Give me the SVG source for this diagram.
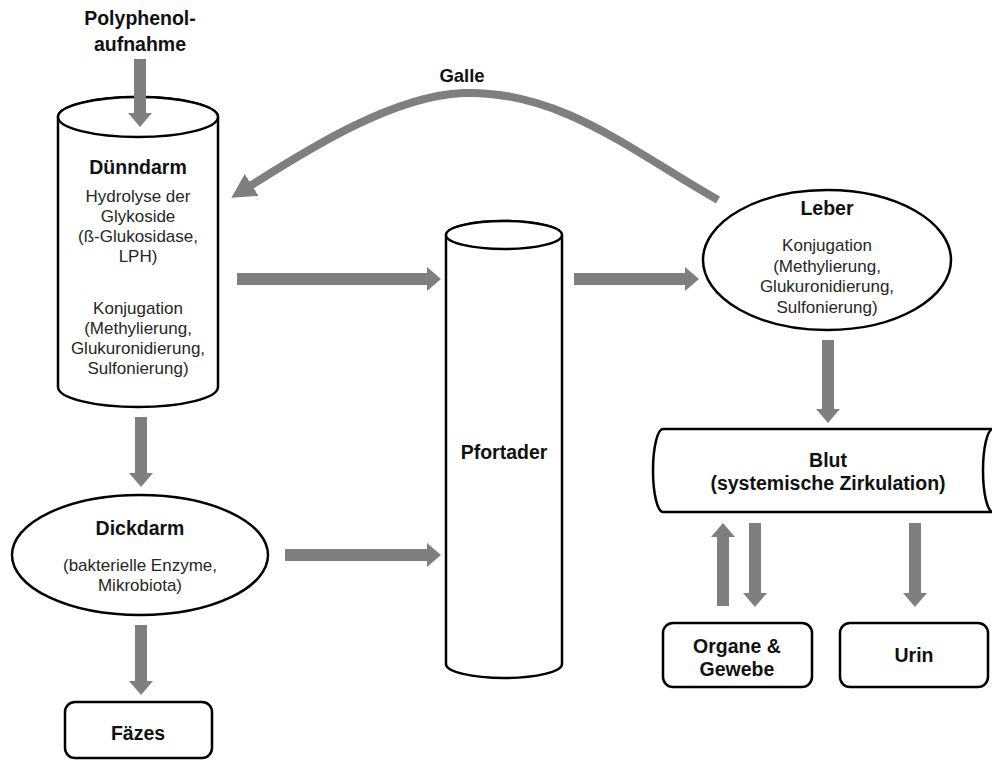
<svg xmlns="http://www.w3.org/2000/svg" width="992" height="762" viewBox="0 0 992 762">
<style>
.shape{fill:#fff;stroke:#000;stroke-width:2.5}
.t{font-family:"Liberation Sans",Arial,sans-serif;font-size:19.5px;font-weight:bold;fill:#111;text-anchor:middle}
.b{font-family:"Liberation Sans",Arial,sans-serif;font-size:17px;fill:#262626;text-anchor:middle}
.arr{stroke:#7f7f7f;stroke-width:12;fill:none}
.galle{stroke:#7f7f7f;stroke-width:8;fill:none}
</style>
<defs>
<marker id="head" markerUnits="userSpaceOnUse" markerWidth="14" markerHeight="24" viewBox="0 0 14 24" refX="1" refY="12" orient="auto">
<path d="M0,0 L14,12 L0,24 Z" fill="#7f7f7f"/>
</marker>
<marker id="headG" markerUnits="userSpaceOnUse" markerWidth="24" markerHeight="26" viewBox="0 0 24 26" refX="2" refY="13" orient="auto">
<path d="M0,0 L24,13 L0,26 Z" fill="#7f7f7f"/>
</marker>
</defs>

<g id="polyphenol">
<text class="t" x="140" y="25">Polyphenol-</text>
<text class="t" x="140" y="51">aufnahme</text>
</g>

<g id="duenndarm">
<path class="shape" d="M58,117 L58,387 A80,20 0 0 0 218,387 L218,117 A80,20 0 0 0 58,117 Z"/>
<ellipse class="shape" cx="138" cy="117" rx="80" ry="20"/>
<text class="t" x="138" y="174">Dünndarm</text>
<text class="b" x="138" y="202">Hydrolyse der</text>
<text class="b" x="138" y="222">Glykoside</text>
<text class="b" x="138" y="242">(ß-Glukosidase,</text>
<text class="b" x="138" y="262">LPH)</text>
<text class="b" x="138" y="314">Konjugation</text>
<text class="b" x="138" y="334">(Methylierung,</text>
<text class="b" x="138" y="354">Glukuronidierung,</text>
<text class="b" x="138" y="374">Sulfonierung)</text>
</g>

<g id="dickdarm">
<ellipse class="shape" cx="140" cy="555" rx="128" ry="60"/>
<text class="t" x="140" y="535">Dickdarm</text>
<text class="b" x="140" y="571">(bakterielle Enzyme,</text>
<text class="b" x="140" y="591">Mikrobiota)</text>
</g>

<g id="faezes">
<rect class="shape" x="65" y="702" width="147" height="56" rx="10"/>
<text class="t" x="138" y="740">Fäzes</text>
</g>

<g id="pfortader">
<path class="shape" d="M446,235 L446,664 A58,14 0 0 0 562,664 L562,235 A58,14 0 0 0 446,235 Z"/>
<ellipse class="shape" cx="504" cy="235" rx="58" ry="14"/>
<text class="t" x="504" y="459">Pfortader</text>
</g>

<g id="leber">
<ellipse class="shape" cx="827" cy="260" rx="124" ry="70"/>
<text class="t" x="827" y="215">Leber</text>
<text class="b" x="827" y="251">Konjugation</text>
<text class="b" x="827" y="272">(Methylierung,</text>
<text class="b" x="827" y="292">Glukuronidierung,</text>
<text class="b" x="827" y="313">Sulfonierung)</text>
</g>

<g id="blut">
<path class="shape" d="M663,429 L993,429 A10,41.5 0 0 1 993,512 L663,512 A10,41.5 0 0 1 663,429 Z"/>
<path class="shape" d="M993,429 A10,41.5 0 0 0 993,512" fill="none"/>
<text class="t" x="828" y="467">Blut</text>
<text class="t" x="828" y="490">(systemische Zirkulation)</text>
</g>

<g id="organe">
<rect class="shape" x="663" y="623" width="149" height="64" rx="10"/>
<text class="t" x="737" y="653">Organe &amp;</text>
<text class="t" x="737" y="676">Gewebe</text>
</g>

<g id="urin">
<rect class="shape" x="840" y="623" width="148" height="64" rx="10"/>
<text class="t" x="914" y="662">Urin</text>
</g>

<g id="connectors">
<line class="arr" x1="140" y1="59" x2="140" y2="114" marker-end="url(#head)"/>
<line class="arr" x1="141" y1="417" x2="141" y2="474" marker-end="url(#head)"/>
<line class="arr" x1="141" y1="625" x2="141" y2="682" marker-end="url(#head)"/>
<line class="arr" x1="237" y1="279" x2="428" y2="279" marker-end="url(#head)"/>
<line class="arr" x1="285" y1="555" x2="428" y2="555" marker-end="url(#head)"/>
<line class="arr" x1="574" y1="279" x2="686" y2="279" marker-end="url(#head)"/>
<line class="arr" x1="828" y1="340" x2="828" y2="410" marker-end="url(#head)"/>
<line class="arr" x1="723" y1="606" x2="723" y2="536" marker-end="url(#head)"/>
<line class="arr" x1="755" y1="523" x2="755" y2="594" marker-end="url(#head)"/>
<line class="arr" x1="915" y1="523" x2="915" y2="594" marker-end="url(#head)"/>
<path class="galle" d="M718,200 C630,150 560,90 463,93 C390,96 301,154 250,186" marker-end="url(#headG)"/>
<text class="t" x="462" y="82" style="font-size:18.5px">Galle</text>
</g>
</svg>
